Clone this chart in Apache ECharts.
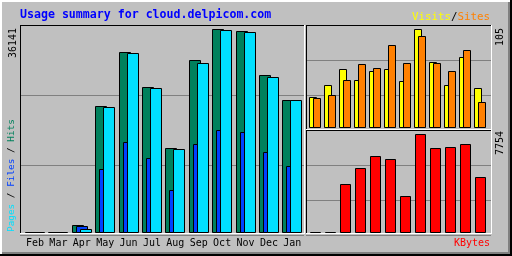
<!DOCTYPE html>
<html><head><meta charset="utf-8">
<script src="https://cdn.jsdelivr.net/npm/echarts@6/dist/echarts.min.js"></script>
<style>html,body{margin:0;padding:0;background:#c0c0c0}#c{width:512px;height:256px}</style>
</head><body><div id="c"></div>
<script>
const months = ['Feb','Mar','Apr','May','Jun','Jul','Aug','Sep','Oct','Nov','Dec','Jan'];
const hits   = [0,0,1300,22430,32050,25810,14950,30620,36141,35790,27950,23500];
const files  = [0,0,1000,11220,16020,13170,7480,15670,18210,17860,14240,11750];
const pages  = [0,0,590,22250,31950,25640,14780,30090,36050,35610,27600,23500];
const visits = [32,45,62,50,60,62,49,105,70,45,75,42];
const sites  = [31,34,50,68,63,88,69,98,69,60,83,27];
const kbytes = [0,0,3798,5064,6013,5776,2848,7754,6646,6725,6963,4352];
const maxHits = 36141, maxVisits = 105, maxKbytes = 7754;
const maxLabels = ['36141','105','7754'];
const title = 'Usage summary for cloud.delpicom.com';

const C = {hits:'#00805c', files:'#0040ff', pages:'#00e0ff', visits:'#ffff00', sites:'#ff8000', kbytes:'#ff0000'};
const MONO = 'DejaVu Sans Mono';

function barItem(off, w, color){
  return function(params, api){
    const i = api.value(0);
    const top = api.coord([i, api.value(1)]);
    const base = api.coord([i, 0]);
    const x = Math.round(top[0] + off) + 0.5;
    const yt = Math.round(top[1] - 0.5) + 0.5;
    const yb = Math.round(base[1] - 0.5) + 0.5;
    return {type:'rect', shape:{x:x, y:yt, width:w-1, height:yb-yt},
      style:{fill:color, stroke:'#000', lineWidth:1}};
  };
}
function toData(arr){ return arr.map((v,i)=>[i,v]); }
function frameAxis(idx){ return {gridIndex:idx, type:'value', min:0, max:3, interval:1, show:true,
  axisLine:{show:false}, axisTick:{show:false}, axisLabel:{show:false},
  splitLine:{show:true, lineStyle:{color:'#808080', width:1}}}; }
function hiddenX(idx){ return {gridIndex:idx, type:'value', min:0, max:1, show:false}; }

const chart = echarts.init(document.getElementById('c'), null, {renderer:'canvas'});

function line(x1,y1,x2,y2,c){ return {type:'line', z:50, silent:true, shape:{x1,y1,x2,y2}, style:{stroke:c, lineWidth:1}}; }

const graphics = [
  {type:'rect', z:-30, shape:{x:0,y:0,width:512,height:256}, style:{fill:'#000'}},
  {type:'rect', z:-29, shape:{x:0,y:0,width:510,height:254}, style:{fill:'#ffffff'}},
  {type:'rect', z:-28, shape:{x:2,y:2,width:508,height:252}, style:{fill:'#808080'}},
  {type:'rect', z:-27, shape:{x:2,y:2,width:506,height:250}, style:{fill:'#c0c0c0'}},
  // frames
  line(20,25.5,304,25.5,'#000'), line(20.5,25,20.5,233,'#000'),
  line(20,233.5,305,233.5,'#fff'), line(304.5,25,304.5,234,'#fff'),
  line(306,25.5,491,25.5,'#000'), line(306.5,25,306.5,234,'#000'),
  line(491.5,25,491.5,234,'#fff'), line(306,233.5,492,233.5,'#fff'),
  line(306,129.5,491,129.5,'#fff'), line(306,130.5,491,130.5,'#000'),
  {type:'text', z:60, x:20, y:15, style:{text:title, fill:'#0000ff', font:'bold 11.6px '+MONO, textAlign:'left', textVerticalAlign:'middle'}},
  {type:'text', z:60, x:490, y:17, style:{text:'{v|Visits}{s|/}{t|Sites}', textAlign:'right', textVerticalAlign:'middle', font:'10.8px '+MONO,
     rich:{v:{fill:C.visits, font:'10.8px '+MONO}, s:{fill:'#000', font:'10.8px '+MONO}, t:{fill:C.sites, font:'10.8px '+MONO}}}},
  {type:'text', z:60, x:490, y:243, style:{text:'KBytes', fill:C.kbytes, font:'10px '+MONO, textAlign:'right', textVerticalAlign:'middle'}},
  {type:'text', z:60, x:13, y:28, rotation:Math.PI/2, style:{text:maxLabels[0], fill:'#000', font:'10px '+MONO, textAlign:'right', textVerticalAlign:'middle'}},
  {type:'text', z:60, x:500.5, y:28, rotation:Math.PI/2, style:{text:maxLabels[1], fill:'#000', font:'10px '+MONO, textAlign:'right', textVerticalAlign:'middle'}},
  {type:'text', z:60, x:500.5, y:131, rotation:Math.PI/2, style:{text:maxLabels[2], fill:'#000', font:'10px '+MONO, textAlign:'right', textVerticalAlign:'middle'}},
  {type:'text', z:60, x:12, y:232, rotation:Math.PI/2, style:{text:'{p|Pages}{s| / }{f|Files}{s| / }{h|Hits}', textAlign:'left', textVerticalAlign:'middle', font:'9.4px '+MONO,
     rich:{p:{fill:C.pages, font:'9.4px '+MONO}, s:{fill:'#000', font:'9.4px '+MONO}, f:{fill:C.files, font:'9.4px '+MONO}, h:{fill:C.hits, font:'9.4px '+MONO}}}}
];

chart.setOption({
  animation:false,
  backgroundColor:'#c0c0c0',
  grid:[
    {left:23.3, top:29.5, width:280.7, height:203},
    {left:307.5, top:29.5, width:180, height:98},
    {left:307.5, top:134.5, width:180, height:98},
    {left:20, top:25, width:284, height:210},
    {left:306, top:25, width:185, height:105},
    {left:306, top:130, width:185, height:105}
  ],
  xAxis:[
    {gridIndex:0, type:'category', data:months, boundaryGap:true, axisLine:{show:false}, axisTick:{show:false},
     axisLabel:{interval:0, color:'#000', fontFamily:MONO, fontSize:10, margin:6, lineHeight:10}},
    {gridIndex:1, type:'category', data:months, show:false},
    {gridIndex:2, type:'category', data:months, show:false},
    hiddenX(3), hiddenX(4), hiddenX(5)
  ],
  yAxis:[
    {gridIndex:0, type:'value', min:0, max:maxHits, show:false},
    {gridIndex:1, type:'value', min:0, max:maxVisits, show:false},
    {gridIndex:2, type:'value', min:0, max:maxKbytes, show:false},
    frameAxis(3), frameAxis(4), frameAxis(5)
  ],
  graphic:graphics,
  series:[
    {type:'custom', name:'Hits', xAxisIndex:0, yAxisIndex:0, renderItem:barItem(-10,12,C.hits), data:toData(hits), encode:{x:0,y:1}, z:5},
    {type:'custom', name:'Files', xAxisIndex:0, yAxisIndex:0, renderItem:barItem(-6,12,C.files), data:toData(files), encode:{x:0,y:1}, z:5},
    {type:'custom', name:'Pages', xAxisIndex:0, yAxisIndex:0, renderItem:barItem(-2,12,C.pages), data:toData(pages), encode:{x:0,y:1}, z:5},
    {type:'custom', name:'Visits', xAxisIndex:1, yAxisIndex:1, renderItem:barItem(-6,8,C.visits), data:toData(visits), encode:{x:0,y:1}, z:5},
    {type:'custom', name:'Sites', xAxisIndex:1, yAxisIndex:1, renderItem:barItem(-2,8,C.sites), data:toData(sites), encode:{x:0,y:1}, z:5},
    {type:'custom', name:'KBytes', xAxisIndex:2, yAxisIndex:2, renderItem:barItem(-5,11,C.kbytes), data:toData(kbytes), encode:{x:0,y:1}, z:5}
  ]
});
</script></body></html>
